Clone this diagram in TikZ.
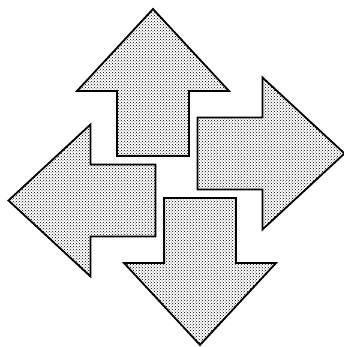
\documentclass[tikz,border=0pt]{standalone}
\usetikzlibrary{patterns}
\tikzset{
  blockarrow/.style={draw=black, line width=1.8pt, line join=miter,
    preaction={fill=white}, pattern=crosshatch dots, pattern color=black}
}
\begin{document}
\begin{tikzpicture}[x=1pt,y=1pt]
\useasboundingbox (-176.5,-170) rectangle (166.5,177);
\foreach \r in {0,-90,180,90}{
  \draw[blockarrow, rotate=\r]
    (-23.5,168) -- (52.5,86) -- (12.5,86) -- (12.5,21) -- (-59.5,21)
    -- (-59.5,86) -- (-99.5,86) -- cycle;
}
\end{tikzpicture}
\end{document}
